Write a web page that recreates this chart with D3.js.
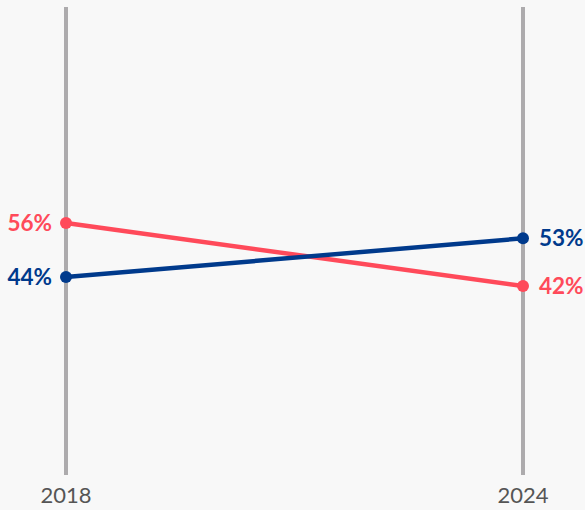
<!DOCTYPE html>
<html><head><meta charset="utf-8">
<script src="https://cdn.jsdelivr.net/npm/d3@7"></script>
<style>
html,body{margin:0;padding:0;background:#f8f8f8;}
svg{display:block;font-family:Lato, sans-serif;}
</style></head>
<body>
<svg id="chart" width="585" height="510"></svg>
<script>
const years = ["2018", "2024"];
const seriesNames = ["Red", "Blue"];
const redValues = [56, 42];
const blueValues = [44, 52.6];
const colors = ["#ff4a5a", "#003a8c"];

const series = [
  {name: seriesNames[0], values: redValues, color: colors[0]},
  {name: seriesNames[1], values: blueValues, color: colors[1]}
];

const svg = d3.select("#chart");
const x = d3.scalePoint().domain(years).range([66, 523]);
const y = d3.scaleLinear().domain([0, 104]).range([475, 7]);

svg.selectAll("line.axis").data(years).enter().append("line")
  .attr("x1", d => x(d)).attr("x2", d => x(d))
  .attr("y1", y(104)).attr("y2", y(0))
  .attr("stroke", "#adabad").attr("stroke-width", 4);

svg.selectAll("text.year").data(years).enter().append("text")
  .attr("x", d => x(d)).attr("y", 503)
  .attr("text-anchor", "middle")
  .attr("font-size", 22).attr("fill", "#555")
  .text(d => d);

const line = d3.line().x((d, i) => x(years[i])).y(d => y(d));
const fmt = v => d3.format(".0f")(v) + "%";

series.forEach(s => {
  svg.append("path").attr("d", line(s.values))
    .attr("fill", "none").attr("stroke", s.color).attr("stroke-width", 4.5);
  svg.selectAll(null).data(s.values).enter().append("circle")
    .attr("cx", (d, i) => x(years[i])).attr("cy", d => y(d))
    .attr("r", 6).attr("fill", s.color);
  svg.selectAll(null).data(s.values).enter().append("text")
    .attr("x", (d, i) => i === 0 ? x(years[i]) - 14 : x(years[i]) + 16)
    .attr("y", d => y(d))
    .attr("dy", "0.36em")
    .attr("text-anchor", (d, i) => i === 0 ? "end" : "start")
    .attr("font-size", 22.5).attr("font-weight", "bold")
    .attr("fill", s.color)
    .text(d => fmt(d));
});
</script>
</body></html>
